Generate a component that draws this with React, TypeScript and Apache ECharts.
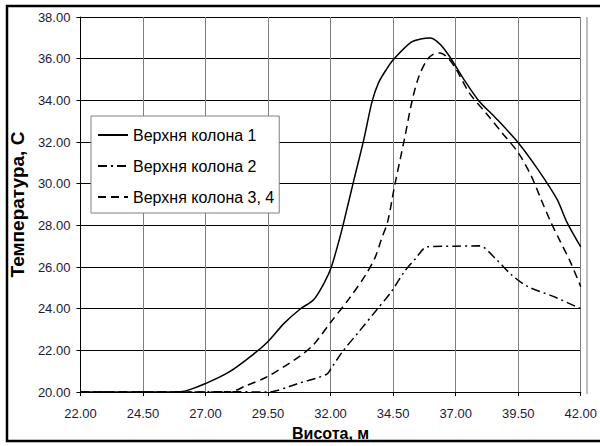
import React, { useEffect, useRef } from "react";
import * as echarts from "echarts";

const seriesNames = ["Верхня колона 1", "Верхня колона 2", "Верхня колона 3, 4"];

const x1 = [22, 24, 26, 26.4, 27.0, 27.95, 28.98, 29.5, 30.15, 30.8, 31.32, 31.77, 32.03, 32.36, 32.53, 32.94, 33.33, 33.66, 33.92, 34.24, 34.53, 35.21, 35.6, 35.99, 36.25, 36.51, 36.84, 37.29, 37.94, 38.59, 39.5, 40.28, 41.05, 41.44, 42];
const t1 = [20, 20, 20.02, 20.13, 20.41, 20.97, 21.88, 22.43, 23.31, 24.0, 24.43, 25.3, 26.0, 27.37, 28.17, 30.22, 32.13, 33.95, 34.85, 35.5, 35.98, 36.78, 36.94, 36.99, 36.83, 36.51, 35.95, 35.08, 33.96, 33.17, 31.97, 30.7, 29.26, 28.17, 26.97];

const x2 = [22, 26, 28, 29.5, 30.41, 30.8, 31.84, 32.03, 32.49, 33.14, 33.79, 34.43, 34.95, 35.4, 35.86, 37.0, 37.94, 38.59, 39.24, 39.89, 40.93, 42];
const t2 = [20, 20, 20.02, 20.0, 20.29, 20.45, 20.85, 21.16, 21.96, 22.91, 23.87, 24.82, 25.78, 26.41, 26.97, 27.0, 27.02, 26.41, 25.62, 25.06, 24.58, 24.0];

const x3 = [22, 26, 28.0, 28.59, 29.5, 30.8, 31.32, 32.03, 32.75, 33.4, 33.79, 34.04, 34.28, 34.56, 34.95, 35.27, 35.53, 35.86, 36.12, 36.38, 36.7, 37.03, 37.55, 38.2, 38.85, 39.5, 40.02, 40.41, 40.8, 41.19, 41.58, 42];
const t3 = [20, 20, 20.02, 20.29, 20.76, 21.75, 22.28, 23.39, 24.5, 25.62, 26.49, 27.37, 28.17, 29.9, 32.13, 34.04, 35.15, 35.95, 36.22, 36.27, 36.03, 35.47, 34.35, 33.41, 32.45, 31.49, 30.38, 29.26, 28.17, 27.21, 26.26, 25.06];

const xName = "Висота, м";
const yName = "Температура, С";

const pairs = (xs: number[], ys: number[]) => xs.map((x, i) => [x, ys[i]]);

export default function App() {
  const ref = useRef<HTMLDivElement>(null);
  useEffect(() => {
    if (!ref.current) return;
    const chart = echarts.init(ref.current, null, { renderer: "svg" });
    const font = "Liberation Sans, Arial, sans-serif";
    const labelColor = "#1a1a3a";
    const dashes: any[] = ["solid", [9, 4, 2, 4], [8, 5]];
    chart.setOption({
      animation: false,
      backgroundColor: "#fff",
      grid: { left: 74, right: 13, top: 17, bottom: 52, containLabel: false },
      legend: {
        orient: "vertical",
        left: 91,
        top: 116,
        padding: [11, 5, 8, 6],
        itemWidth: 30,
        itemHeight: 14,
        itemGap: 15,
        backgroundColor: "#fff",
        borderColor: "#808080",
        borderWidth: 1,
        itemStyle: { color: "transparent", borderWidth: 0, opacity: 0 },
        textStyle: { fontFamily: font, fontSize: 16, color: "#000" },
        data: seriesNames,
      },
      xAxis: {
        type: "value",
        min: 22,
        max: 42,
        interval: 2.5,
        name: xName,
        nameLocation: "middle",
        nameGap: 27,
        nameTextStyle: { fontFamily: font, fontSize: 16, fontWeight: "bold", color: "#000" },
        axisLine: { show: true, onZero: false, lineStyle: { color: "#000", width: 1 } },
        axisTick: { show: true, length: 4, lineStyle: { color: "#000" } },
        axisLabel: {
          fontFamily: font,
          fontSize: 13,
          color: labelColor,
          margin: 15,
          formatter: (v: number) => v.toFixed(2),
        },
        splitLine: { show: true, lineStyle: { color: "#808080", width: 1 } },
      },
      yAxis: {
        type: "value",
        min: 20,
        max: 38,
        interval: 2,
        name: yName,
        nameLocation: "middle",
        nameGap: 44,
        nameTextStyle: { fontFamily: font, fontSize: 19, fontWeight: "bold", color: "#000" },
        axisLine: { show: true, lineStyle: { color: "#000", width: 1 } },
        axisTick: { show: true, length: 4, lineStyle: { color: "#000" } },
        axisLabel: {
          fontFamily: font,
          fontSize: 13,
          color: labelColor,
          margin: 10,
          formatter: (v: number) => v.toFixed(2),
        },
        splitLine: { show: true, lineStyle: { color: "#000", width: 1 } },
      },
      graphic: [
        {
          type: "rect",
          shape: { x: 7, y: 6, width: 620, height: 435 },
          style: { fill: "none", stroke: "#000", lineWidth: 2.5 },
          silent: true,
          z: 100,
        },
        {
          type: "line",
          shape: { x1: 587, y1: 17, x2: 587, y2: 394 },
          style: { stroke: "#808080", lineWidth: 1 },
          silent: true,
          z: 0,
        },
      ],
      series: [x1, x2, x3].map((xs, i) => ({
        name: seriesNames[i],
        type: "line",
        data: pairs(xs, [t1, t2, t3][i]),
        symbol: "none",
        smooth: 0.3,
        lineStyle: { color: "#000", width: 1.5, type: dashes[i] },
        itemStyle: { color: "#000" },
        z: 5,
      })),
    });
    return () => chart.dispose();
  }, []);
  return (
    <div
      ref={ref}
      style={{ position: "fixed", left: 0, top: 0, width: 600, height: 446 }}
    />
  );
}
